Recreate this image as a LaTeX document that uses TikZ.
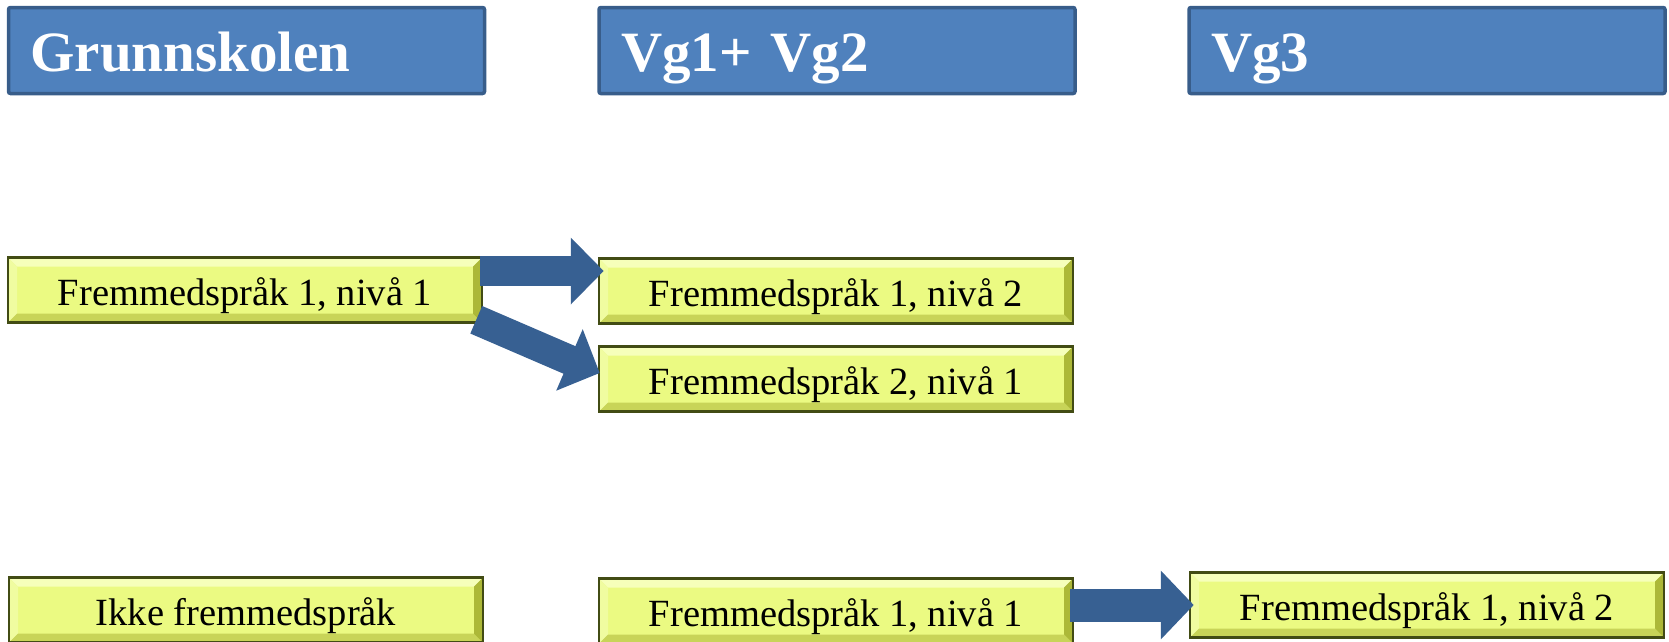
\documentclass[tikz,border=0pt]{standalone}
\usepackage{fontspec}
\setmainfont{Liberation Serif}
\usetikzlibrary{arrows.meta,calc}

\definecolor{hodeblaa}{RGB}{79,129,189}
\definecolor{hodekant}{RGB}{56,93,138}
\definecolor{pilblaa}{RGB}{55,96,146}
\definecolor{kursgul}{RGB}{235,250,130}
\definecolor{kurskant}{RGB}{66,76,20}
\definecolor{lystopp}{RGB}{246,255,186}
\definecolor{lysside}{RGB}{240,252,160}
\definecolor{mrkbunn}{RGB}{200,212,88}
\definecolor{mrkside}{RGB}{172,184,56}

\begin{document}
\begin{tikzpicture} [x=1pt,y=-1pt,
			hode/.style={draw=hodekant,fill=hodeblaa,line width=3.5pt,rounded corners=2pt,minimum width=476pt,minimum height=86pt,inner xsep=22pt,inner ysep=0pt,text width=432pt,align=left,text height=41pt,text depth=0pt,text=white,font=\fontsize{57}{60}\selectfont\bfseries},
			kurs/.style={draw=kurskant,line width=2.5pt,fill=kursgul,minimum width=474pt,minimum height=65pt,inner sep=0pt,text height=30pt,text depth=0pt,font=\fontsize{38.5}{40}\selectfont,
				path picture={
					\fill[lystopp] (path picture bounding box.north west) -- (path picture bounding box.north east) -- ([shift={(-9pt,-9pt)}]path picture bounding box.north east) -- ([shift={(9pt,-9pt)}]path picture bounding box.north west) -- cycle;
					\fill[lysside] (path picture bounding box.north west) -- (path picture bounding box.south west) -- ([shift={(9pt,9pt)}]path picture bounding box.south west) -- ([shift={(9pt,-9pt)}]path picture bounding box.north west) -- cycle;
					\fill[mrkbunn] (path picture bounding box.south west) -- (path picture bounding box.south east) -- ([shift={(-9pt,9pt)}]path picture bounding box.south east) -- ([shift={(9pt,9pt)}]path picture bounding box.south west) -- cycle;
					\fill[mrkside] (path picture bounding box.north east) -- (path picture bounding box.south east) -- ([shift={(-9pt,9pt)}]path picture bounding box.south east) -- ([shift={(-9pt,-9pt)}]path picture bounding box.north east) -- cycle;
				}},
			pil/.style={pilblaa,line width=30pt,-{Triangle[length=33pt,width=65pt]}}]
			\useasboundingbox (0,0) rectangle (1669,641);
			
			\foreach \n/\x/\t in {hGs/246.5/Grunnskolen,hVg/837/Vg1+ Vg2,hVgtre/1427/Vg3}
			\node[hode] (\n) at (\x,50.5) {\t};
			
			\node[kurs] (fA) at (245,290) {Fremmedspråk 1, nivå 1};
			\node[kurs] (fB) at (836,291) {Fremmedspråk 1, nivå 2};
			\node[kurs] (fC) at (836,379) {Fremmedspråk 2, nivå 1};
			\node[kurs] (fD) at (246,610) {Ikke fremmedspråk};
			\node[kurs] (fE) at (836,611) {Fremmedspråk 1, nivå 1};
			\node[kurs] (fF) at (1427,605) {Fremmedspråk 1, nivå 2};
			
			\draw[pil] ($(fA.north east)+(-3,14.75)$) -- ($(fB.west)+(6,-20)$);
			\draw[pil] ($(fA.south east)+(-7,-4)$) -- ($(fC.west)+(2,-6)$);
			\draw[pil,line width=33pt,-{Triangle[length=33pt,width=67pt]}] ($(fE.east)+(-4,-6)$) -- ($(fF.west)+(5,0)$);
			\end{tikzpicture}
\end{document}
